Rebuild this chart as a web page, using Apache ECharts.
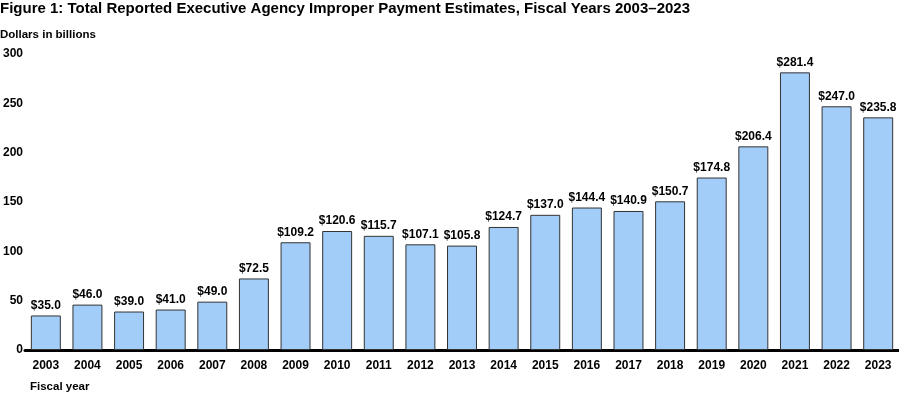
<!DOCTYPE html>
<html><head><meta charset="utf-8">
<script src="https://cdn.jsdelivr.net/npm/echarts@6/dist/echarts.min.js"></script>
<style>html,body{margin:0;padding:0;background:#fff}#c{width:899px;height:393px}</style>
</head><body><div id="c"></div>
<script>
const years = ["2003","2004","2005","2006","2007","2008","2009","2010","2011","2012","2013","2014","2015","2016","2017","2018","2019","2020","2021","2022","2023"];
const estimates = [35.0,46.0,39.0,41.0,49.0,72.5,109.2,120.6,115.7,107.1,105.8,124.7,137.0,144.4,140.9,150.7,174.8,206.4,281.4,247.0,235.8];
const yTicks = [0,50,100,150,200,250,300];
const FONT = 'Arial, "Liberation Sans", sans-serif';
const chart = echarts.init(document.getElementById('c'));
chart.setOption({
  animation:false,
  textStyle:{fontFamily:FONT},
  title:[
    {text:'Figure 1: Total Reported Executive Agency Improper Payment Estimates, Fiscal Years 2003\u20132023',left:0,top:1,padding:0,textStyle:{fontFamily:FONT,fontSize:15,fontWeight:'bold',color:'#000'}},
    {text:'Dollars in billions',left:0,top:29,padding:0,textStyle:{fontFamily:FONT,fontSize:11.5,fontWeight:'bold',color:'#000'}},
    {text:'Fiscal year',left:30,top:381,padding:0,textStyle:{fontFamily:FONT,fontSize:11.5,fontWeight:'bold',color:'#000'}}
  ],
  grid:{left:22,right:-1,top:54,bottom:43,containLabel:false},
  xAxis:{type:'category',data:years,
    axisLine:{lineStyle:{color:'#000',width:3}},axisTick:{show:false},
    axisLabel:{color:'#000',fontWeight:'bold',fontSize:12,margin:10,fontFamily:FONT}},
  yAxis:{type:'value',min:yTicks[0],max:yTicks[yTicks.length-1],interval:50,
    splitLine:{show:false},axisLine:{show:false},axisTick:{show:false},
    axisLabel:{color:'#000',fontWeight:'bold',fontSize:12,margin:2,fontFamily:FONT}},
  series:[{type:'bar',data:estimates,barCategoryGap:'28%',
    itemStyle:{color:'#a2cdf9',borderColor:'#333',borderWidth:1},
    label:{show:true,position:'top',distance:4,color:'#000',fontWeight:'bold',fontSize:12,fontFamily:FONT,
      formatter:p=>'$'+p.value.toFixed(1)}}]
});
</script></body></html>
